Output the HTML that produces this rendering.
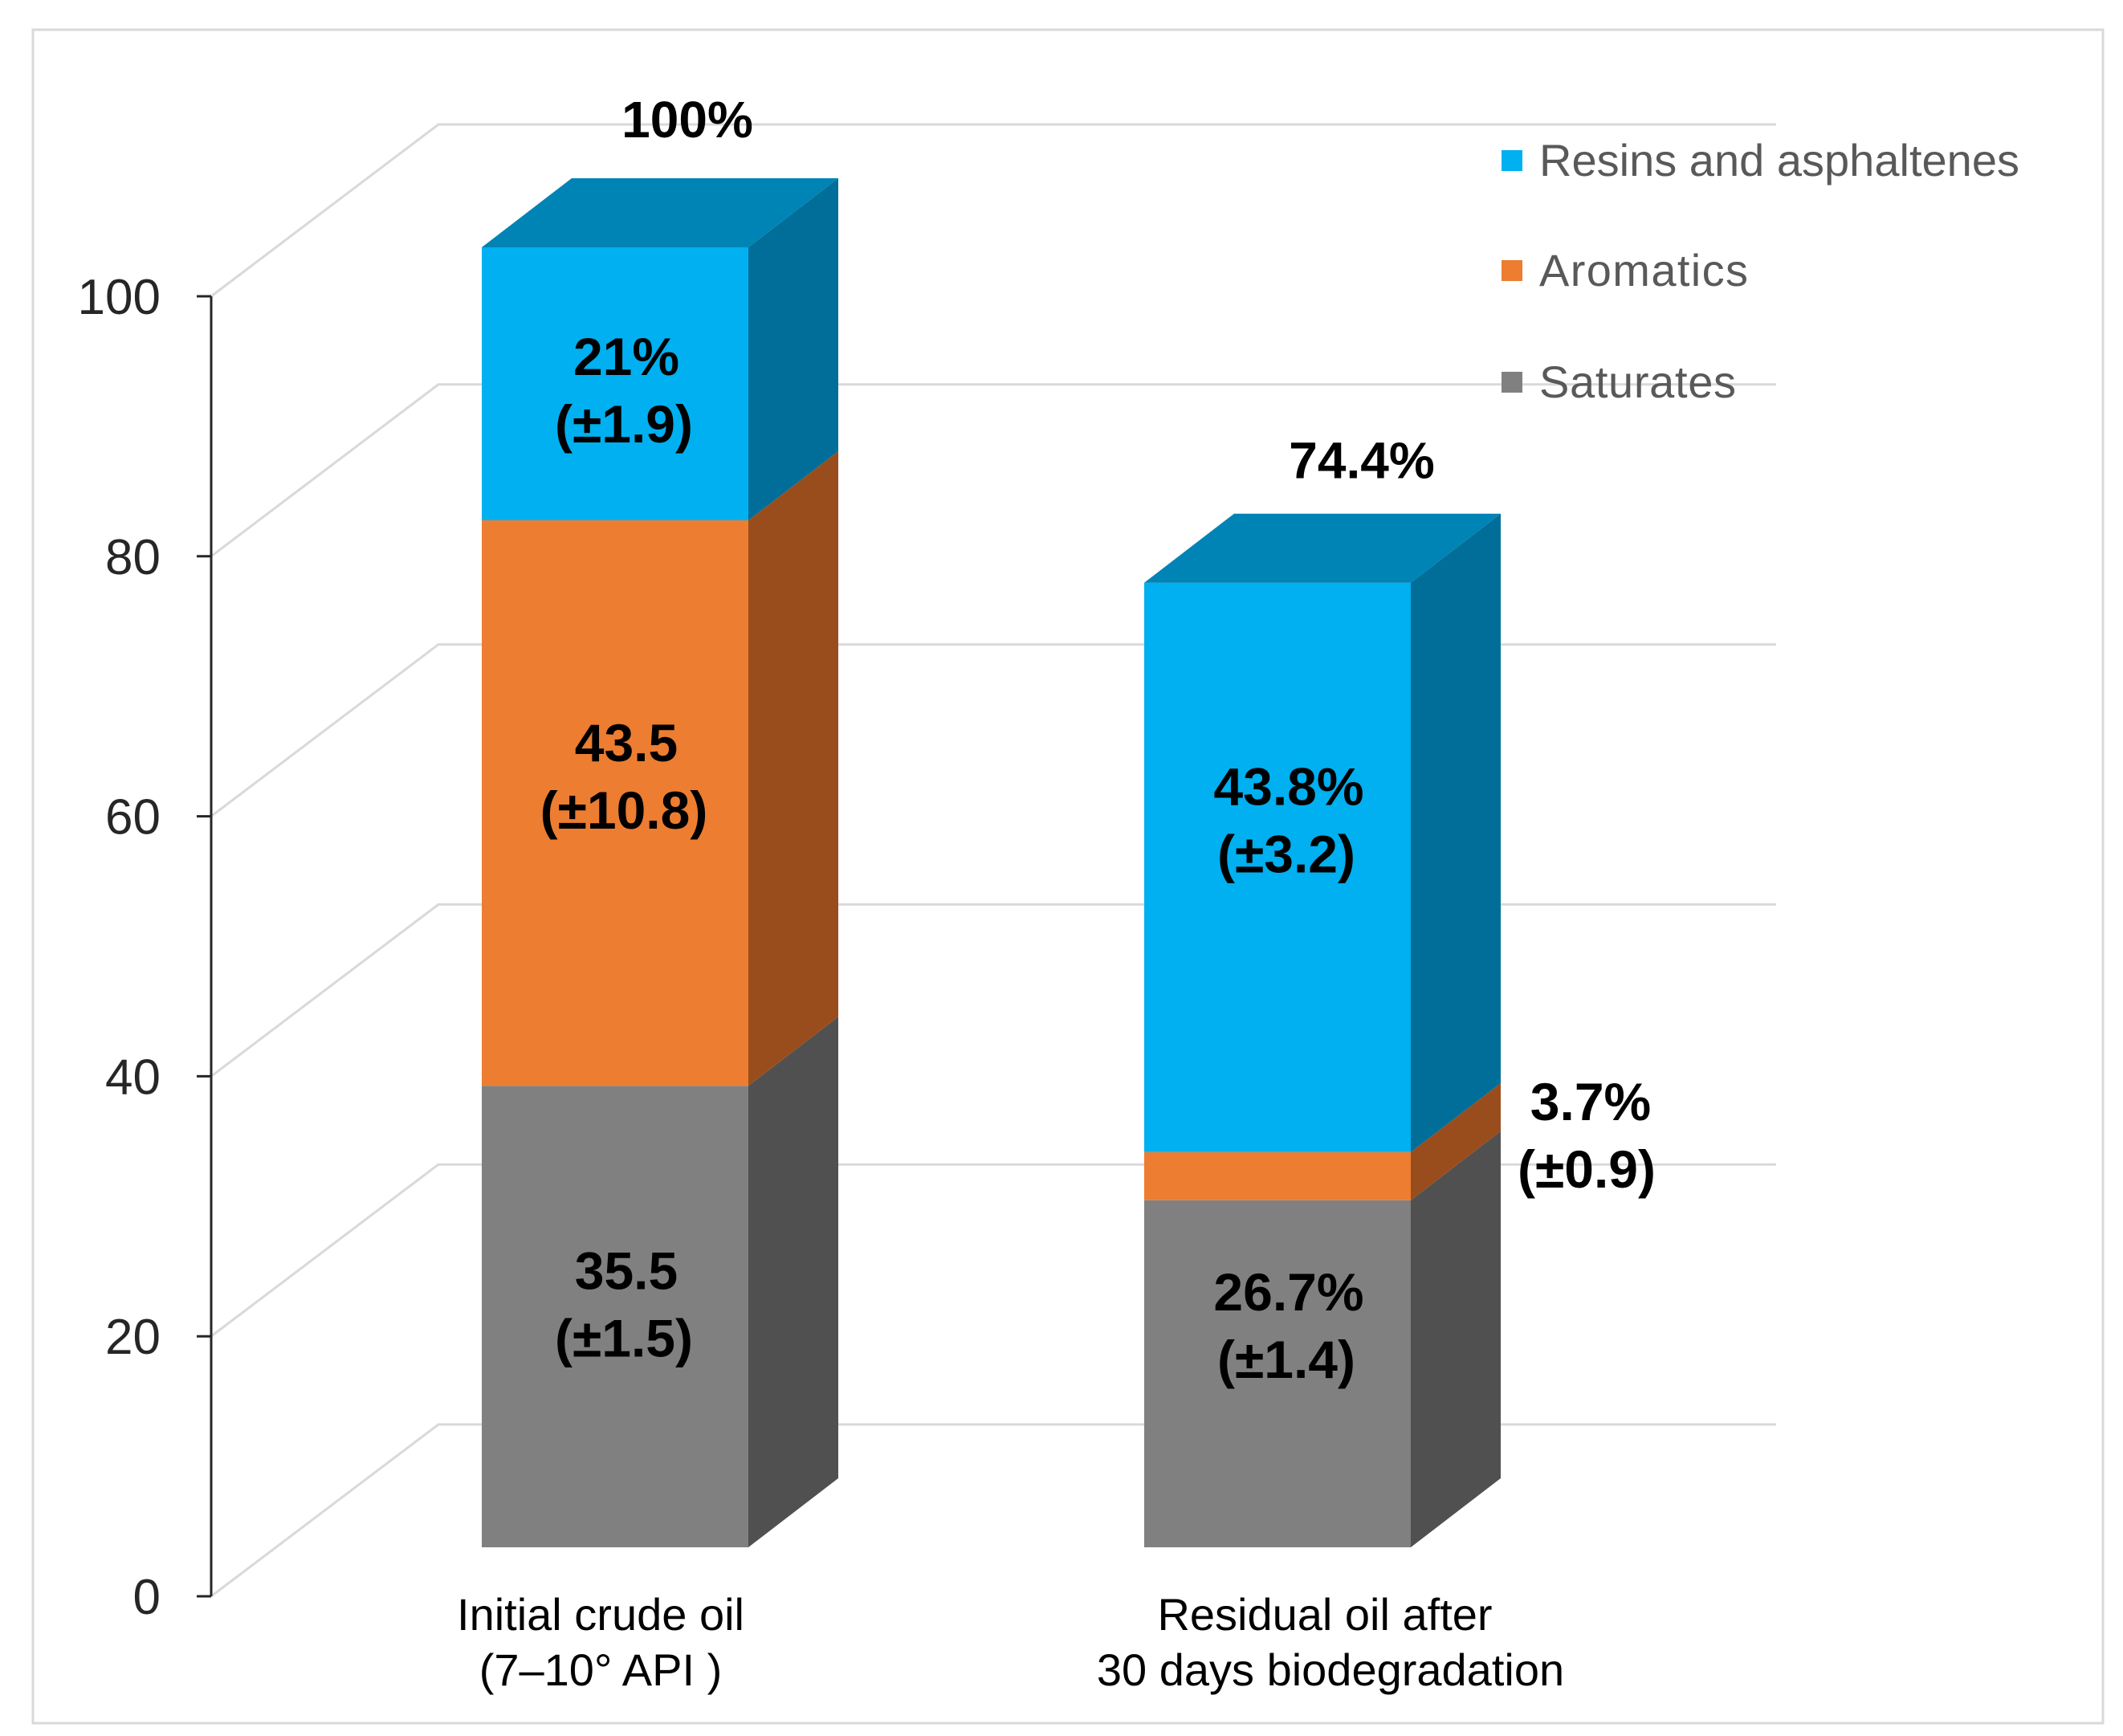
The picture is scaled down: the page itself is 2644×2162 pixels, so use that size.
<!DOCTYPE html>
<html><head><meta charset="utf-8"><style>
html,body{margin:0;padding:0;background:#fff;}
svg{display:block;}
</style></head><body>
<svg id="chart" width="2644" height="2162" viewBox="0 0 2644 2162" xmlns="http://www.w3.org/2000/svg">
<rect x="41" y="37" width="2578" height="2109" fill="#fff" stroke="#d9d9d9" stroke-width="3"/>
<g id="grid"></g>
<g id="axis"></g>
<g id="bars"></g>
<g id="labels"></g>
<g id="legend"></g>
</svg>
<script>
const categories = [["Initial crude oil","(7–10° API )"],["Residual oil after","30 days biodegradation"]];
const seriesNames = ["Saturates","Aromatics","Resins and asphaltenes"];
const saturates = [35.5, 26.7];
const aromatics = [43.5, 3.7];
const resins = [21, 43.8];
const satLabels = [["35.5","(±1.5)"],["26.7%","(±1.4)"]];
const aroLabels = [["43.5","(±10.8)"],["3.7%","(±0.9)"]];
const resLabels = [["21%","(±1.9)"],["43.8%","(±3.2)"]];
const totalLabels = ["100%","74.4%"];
const yTicks = [0,20,40,60,80,100];

const NS="http://www.w3.org/2000/svg";
const U=16.19, AX=263, AY0=1988, BY0=1927, DX=112, DY=-86, GDX=283, GDY=-214, GRIGHT=2212;
const barX=[600,1425], barW=332;
// label vertical nudges (layout only), per bar per segment [sat, aro, res]
const nudge=[[-14,-32,9],[-59,-34,-58]];
const ay=v=>AY0-v*U, by=v=>BY0-v*U;
function mk(tag,attrs,parent){const e=document.createElementNS(NS,tag);for(const k in attrs)e.setAttribute(k,attrs[k]);parent.appendChild(e);return e;}
const grid=document.getElementById('grid'),axis=document.getElementById('axis'),bars=document.getElementById('bars'),labels=document.getElementById('labels'),legend=document.getElementById('legend');

yTicks.forEach(v=>{
  const y=ay(v);
  const g=mk('polyline',{points:`${AX},${y} ${AX+GDX},${y+GDY} ${GRIGHT},${y+GDY}`,fill:'none',stroke:'#d9d9d9','stroke-width':3},grid);
  
  
  const t=mk('line',{x1:AX-18,y1:y,x2:AX,y2:y,stroke:'#262626','stroke-width':3},axis);
  
  
  const l=mk('text',{x:200,y:y+22,'text-anchor':'end','font-family':'Liberation Sans, sans-serif','font-size':62,fill:'#262626'},axis);
  l.textContent=v;
  
  
});
const al=mk('line',{x1:AX,y1:ay(100),x2:AX,y2:ay(0),stroke:'#262626','stroke-width':3},axis);



const segs=[
  {vals:saturates,labs:satLabels,front:'#808080',side:'#505050',top:'#6a6a6a',name:'saturates'},
  {vals:aromatics,labs:aroLabels,front:'#ED7D31',side:'#9A4D1C',top:'#c0601f',name:'aromatics'},
  {vals:resins,labs:resLabels,front:'#00B0F0',side:'#006E98',top:'#0083B5',name:'resins'}
];
function txt(s,x,y,size,weight,fill,name){
  const t=mk('text',{x:x,y:y,'text-anchor':'middle','font-family':'Liberation Sans, Arial, sans-serif','font-size':size,'font-weight':weight,fill:fill},labels);
  t.textContent=s;
  
  
  return t;
}
categories.forEach((cat,i)=>{
  const x=barX[i];let base=0;
  segs.forEach((s,si)=>{
    const v=s.vals[i],y0=by(base),y1=by(base+v);
    const f=mk('rect',{x:x,y:y1,width:barW,height:y0-y1,fill:s.front},bars);
    
    
    const sd=mk('polygon',{points:`${x+barW},${y0} ${x+barW+DX},${y0+DY} ${x+barW+DX},${y1+DY} ${x+barW},${y1}`,fill:s.side},bars);
    
    
    if(si===segs.length-1){
      const tp=mk('polygon',{points:`${x},${y1} ${x+DX},${y1+DY} ${x+barW+DX},${y1+DY} ${x+barW},${y1}`,fill:s.top},bars);
      
      
    }
    const cy=(y0+y1)/2+nudge[i][si], cx=x+barW/2+14;
    if(s.name==='aromatics' && v<8){
      txt(s.labs[i][0],x+barW+DX+112,cy-36,66,'bold','#000','label-'+s.name+'-'+(i+1));
      txt(s.labs[i][1],x+barW+DX+107,cy+48,66,'bold','#000','label-'+s.name+'-err-'+(i+1));
    } else {
      txt(s.labs[i][0],cx,cy-20,66,'bold','#000','label-'+s.name+'-'+(i+1));
      txt(s.labs[i][1],cx-3,cy+64,66,'bold','#000','label-'+s.name+'-err-'+(i+1));
    }
    base+=v;
  });
  txt(totalLabels[i],x+barW/2+90+(i?15:0),by(base)+DY-51+(i?7:0),64,'bold','#000','total-label-'+(i+1));
  txt(cat[0],x+barW/2-18+(i?77:0),2030,56,'normal','#000','x-label-'+(i+1));
  txt(cat[1],x+barW/2-18+(i?84:0),2099,56,'normal','#000','x-label-line2-'+(i+1));
});

const legendItems=[[seriesNames[2],'#00B0F0',200],[seriesNames[1],'#ED7D31',337],[seriesNames[0],'#808080',476]];
legendItems.forEach(([n,c,y],k)=>{
  const r=mk('rect',{x:1870,y:y-13,width:26,height:26,fill:c},legend);
  
  
  const t=mk('text',{x:1917,y:y+19,'font-family':'Liberation Sans, sans-serif','font-size':56,fill:'#595959',textLength:n.length>15?598:(n==='Aromatics'?260:245)},legend);
  t.textContent=n;
  
  
});
</script>
</body></html>
